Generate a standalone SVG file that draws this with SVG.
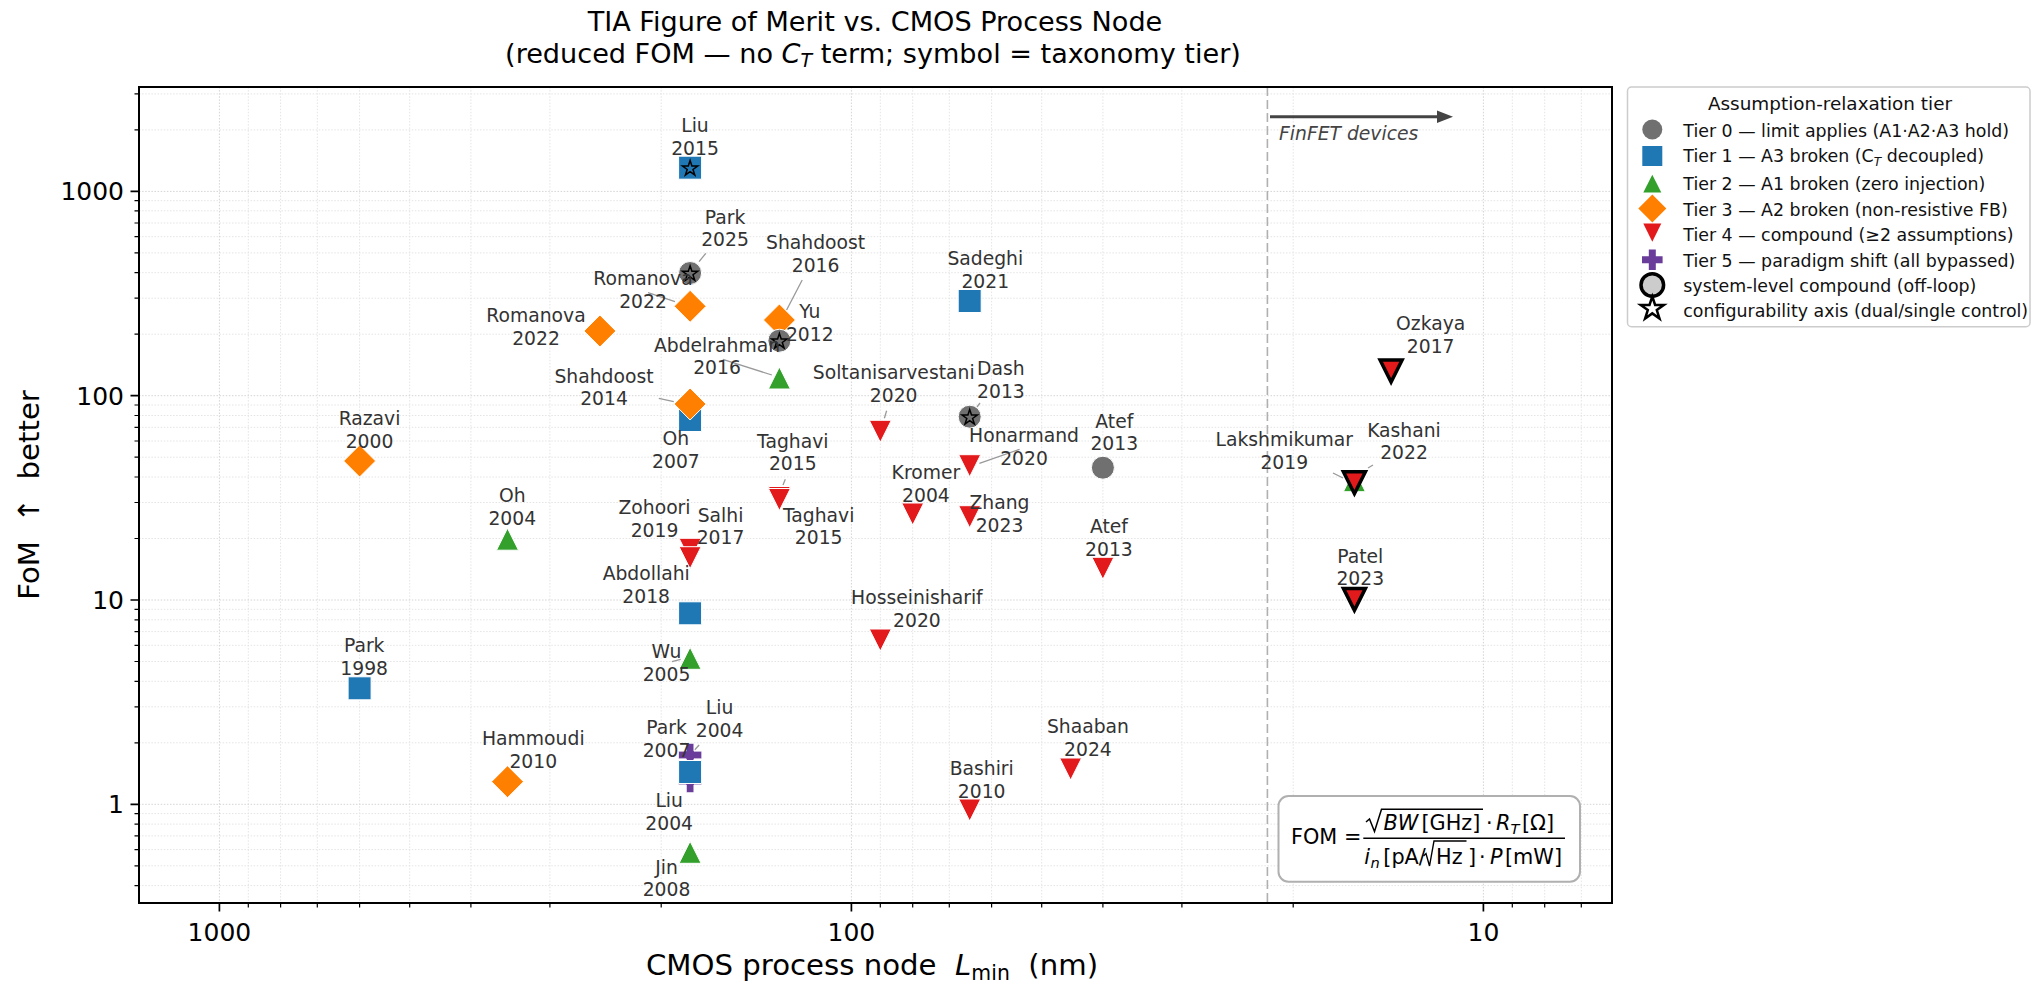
<svg xmlns="http://www.w3.org/2000/svg" xmlns:xlink="http://www.w3.org/1999/xlink" width="2031" height="985" viewBox="0 0 2031 985">
<style>
text { font-family: "DejaVu Sans", "Liberation Sans", sans-serif; }
.ann { font-size: 18.75px; fill: #333; text-anchor: middle; }
.tk { font-size: 25px; fill: #000; }
.lg { font-size: 17.4px; fill: #111; }
.t0 { fill: #707070; stroke: #fff; stroke-width: 1; }
.t1 { fill: #1f78b4; stroke: #fff; stroke-width: 1; }
.t2 { fill: #33a02c; stroke: #fff; stroke-width: 1; }
.t3 { fill: #ff7f00; stroke: #fff; stroke-width: 1; }
.t4 { fill: #e31a1c; stroke: #fff; stroke-width: 1; }
.t5 { fill: #6a3d9a; stroke: #fff; stroke-width: 1; }
.sys { stroke: #000; stroke-width: 3.5; stroke-linejoin: miter; }
.star { fill: none; stroke: #000; stroke-width: 1.5; }
.leader { stroke: #999; stroke-width: 1.3; fill: none; }
.it { font-style: italic; }
</style>
<defs>
<path id="mSq" d="M-11.5,-11.5h23v23h-23z"/>
<circle id="mCi" r="11.5"/>
<path id="mTu" d="M0,-11L11,11H-11Z"/>
<path id="mTd" d="M0,11L11,-11H-11Z"/>
<path id="mDi" d="M0,-16L16,0L0,16L-16,0Z"/>
<path id="mPl" d="M-3.9,-11.8h7.8v7.9h7.9v7.8h-7.9v7.9h-7.8v-7.9h-7.9v-7.8h7.9z"/>
<path id="mSt" d="M0,-8L1.8,-2.47L7.61,-2.47L2.91,0.94L4.7,6.47L0,3.06L-4.7,6.47L-2.91,0.94L-7.61,-2.47L-1.8,-2.47Z"/>
</defs>
<rect x="0" y="0" width="2031" height="985" fill="#fff"/>

<!-- title -->
<g id="title">
<text x="875" y="31" font-size="27.1" text-anchor="middle" fill="#000">TIA Figure of Merit vs. CMOS Process Node</text>
<text x="873" y="63.3" font-size="27.1" text-anchor="middle" fill="#000">(reduced FOM — no <tspan class="it">C</tspan><tspan class="it" font-size="19" dy="4">T</tspan><tspan dy="-4"> term; symbol = taxonomy tier)</tspan></text>
</g>

<!-- grid -->
<g id="grid" fill="none">
<path stroke="#e4e4e4" stroke-width="1" stroke-dasharray="1.5,1.6" d="M248.3,87V903M280.6,87V903M317.3,87V903M359.6,87V903M409.7,87V903M470.9,87V903M549.9,87V903M661.2,87V903M880.3,87V903M912.7,87V903M949.3,87V903M991.6,87V903M1041.7,87V903M1102.9,87V903M1181.9,87V903M1293.2,87V903M1512.3,87V903M1544.7,87V903M1581.3,87V903
M139,885.6H1612M139,865.8H1612M139,849.6H1612M139,835.9H1612M139,824.1H1612M139,813.6H1612M139,742.8H1612M139,706.8H1612M139,681.3H1612M139,661.5H1612M139,645.3H1612M139,631.6H1612M139,619.8H1612M139,609.3H1612M139,538.5H1612M139,502.5H1612M139,477H1612M139,457.2H1612M139,441H1612M139,427.3H1612M139,415.5H1612M139,405H1612M139,334.2H1612M139,298.2H1612M139,272.7H1612M139,252.9H1612M139,236.7H1612M139,223H1612M139,210.8H1612M139,200.7H1612M139,129.9H1612M139,93.9H1612"/>
<path stroke="#d4d4d4" stroke-width="1" stroke-dasharray="1.5,1.6" d="M219.4,87V903M851.4,87V903M1483.4,87V903M139,804.3H1612M139,600H1612M139,395.7H1612M139,191.4H1612"/>
</g>

<!-- FinFET boundary -->
<g id="finfet">
<line x1="1267.4" y1="87" x2="1267.4" y2="903" stroke="#b0b0b0" stroke-width="1.6" stroke-dasharray="9,4"/>
<line x1="1270" y1="116.7" x2="1440" y2="116.7" stroke="#444" stroke-width="3"/>
<path d="M1453,116.7L1437,110.5L1437,122.9Z" fill="#444"/>
<text x="1279" y="139.5" font-size="18.75" font-style="italic" fill="#444">FinFET devices</text>
</g>

<!-- connectors (annotation leaders) -->
<g id="leaders" class="leader">
<line x1="705.8" y1="253.3" x2="699.1" y2="261.7"/>
<line x1="648" y1="292.7" x2="675" y2="301.7"/>
<line x1="802.2" y1="280" x2="786.6" y2="310"/>
<line x1="722.8" y1="359.3" x2="771.9" y2="375"/>
<line x1="658.8" y1="398.3" x2="673.8" y2="401.7"/>
<line x1="886.6" y1="410.7" x2="884.4" y2="418.3"/>
<line x1="977" y1="407" x2="980" y2="403"/>
<line x1="979.4" y1="463.3" x2="1019.6" y2="449.3"/>
<line x1="785.3" y1="479.3" x2="783" y2="485"/>
<line x1="671.9" y1="661.7" x2="680.7" y2="659.3"/>
<line x1="699.1" y1="745" x2="694.6" y2="750"/>
<line x1="1333" y1="473" x2="1343" y2="478"/>
<line x1="1368" y1="468" x2="1373" y2="465"/>
</g>

<!-- markers -->
<g id="n-liu2004a"><use href="#mPl" x="690.1" y="755" class="t5"/></g>
<g id="n-liu2004b"><use href="#mPl" x="690.1" y="781" class="t5"/></g>
<g id="n-liu2015"><use href="#mSq" x="690.1" y="167.7" class="t1"/><use href="#mSt" x="690.1" y="168.5" class="star"/></g>
<g id="n-sadeghi2021"><use href="#mSq" x="969.7" y="301" class="t1"/></g>
<g id="n-oh2007"><use href="#mSq" x="690.1" y="420" class="t1"/></g>
<g id="n-abdollahi2018"><use href="#mSq" x="690.1" y="613.3" class="t1"/></g>
<g id="n-park1998"><use href="#mSq" x="359.6" y="688.3" class="t1"/></g>
<g id="n-park2007"><use href="#mSq" x="690.1" y="772" class="t1"/></g>
<g id="n-romanova2022a"><use href="#mDi" x="690.1" y="306.3" class="t3"/></g>
<g id="n-romanova2022b"><use href="#mDi" x="599.9" y="331" class="t3"/></g>
<g id="n-shahdoost2016"><use href="#mDi" x="779.4" y="320" class="t3"/></g>
<g id="n-shahdoost2014"><use href="#mDi" x="690.1" y="404" class="t3"/></g>
<g id="n-razavi2000"><use href="#mDi" x="359.6" y="461" class="t3"/></g>
<g id="n-hammoudi2010"><use href="#mDi" x="507.5" y="781.7" class="t3"/></g>
<g id="n-park2025"><use href="#mCi" x="690.1" y="273" class="t0"/><use href="#mSt" x="690.1" y="273.8" class="star"/></g>
<g id="n-yu2012"><use href="#mCi" x="779.4" y="340.7" class="t0"/><use href="#mSt" x="779.4" y="341.5" class="star"/></g>
<g id="n-dash2013"><use href="#mCi" x="969.7" y="416.7" class="t0"/><use href="#mSt" x="969.7" y="417.5" class="star"/></g>
<g id="n-atef2013a"><use href="#mCi" x="1102.9" y="467.7" class="t0"/></g>
<g id="n-abdelrahman2016"><use href="#mTu" x="779.4" y="378" class="t2"/></g>
<g id="n-oh2004"><use href="#mTu" x="507.5" y="539.2" class="t2"/></g>
<g id="n-wu2005"><use href="#mTu" x="690.1" y="658.3" class="t2"/></g>
<g id="n-jin2008"><use href="#mTu" x="690.1" y="852.3" class="t2"/></g>
<g id="n-lakshmikumar2019"><use href="#mTu" x="1354.4" y="480.7" class="t2"/></g>
<g id="n-soltanisarvestani2020"><use href="#mTd" x="880.3" y="431.3" class="t4"/></g>
<g id="n-honarmand2020"><use href="#mTd" x="969.7" y="465.7" class="t4"/></g>
<g id="n-taghavi2015a"><use href="#mTd" x="779.4" y="497.5" class="t4"/></g>
<g id="n-taghavi2015b"><use href="#mTd" x="779.4" y="499.5" class="t4"/></g>
<g id="n-kromer2004"><use href="#mTd" x="912.7" y="514" class="t4"/></g>
<g id="n-zhang2023"><use href="#mTd" x="969.7" y="516.7" class="t4"/></g>
<g id="n-zohoori2019"><use href="#mTd" x="690.1" y="549.3" class="t4"/></g>
<g id="n-salhi2017"><use href="#mTd" x="690.1" y="557.7" class="t4"/></g>
<g id="n-atef2013b"><use href="#mTd" x="1102.9" y="568.3" class="t4"/></g>
<g id="n-hosseinisharif2020"><use href="#mTd" x="880.3" y="640" class="t4"/></g>
<g id="n-shaaban2024"><use href="#mTd" x="1070.6" y="769" class="t4"/></g>
<g id="n-bashiri2010"><use href="#mTd" x="969.7" y="810" class="t4"/></g>
<g id="n-ozkaya2017"><use href="#mTd" x="1391.1" y="371" class="t4 sys"/></g>
<g id="n-kashani2022"><use href="#mTd" x="1354.4" y="482.7" class="t4 sys"/></g>
<g id="n-patel2023"><use href="#mTd" x="1354.4" y="599.4" class="t4 sys"/></g>

<!-- labels -->
<g id="labels" class="ann">
<text x="695" y="132">Liu</text><text x="695" y="154.5">2015</text>
<text x="725" y="223.6">Park</text><text x="725" y="246.1">2025</text>
<text x="643" y="285">Romanova</text><text x="643" y="307.5">2022</text>
<text x="536" y="322">Romanova</text><text x="536" y="344.5">2022</text>
<text x="815.6" y="249.3">Shahdoost</text><text x="815.6" y="271.8">2016</text>
<text x="809.8" y="318.3">Yu</text><text x="809.8" y="340.8">2012</text>
<text x="985.3" y="265.3">Sadeghi</text><text x="985.3" y="287.8">2021</text>
<text x="717" y="351.6">Abdelrahman</text><text x="717" y="374.1">2016</text>
<text x="604" y="382.6">Shahdoost</text><text x="604" y="405.1">2014</text>
<text x="675.9" y="445">Oh</text><text x="675.9" y="467.5">2007</text>
<text x="369.5" y="425">Razavi</text><text x="369.5" y="447.5">2000</text>
<text x="893.7" y="379.3">Soltanisarvestani</text><text x="893.7" y="401.8">2020</text>
<text x="1000.9" y="375">Dash</text><text x="1000.9" y="397.5">2013</text>
<text x="1024" y="442">Honarmand</text><text x="1024" y="464.5">2020</text>
<text x="1114.3" y="427.6">Atef</text><text x="1114.3" y="450.1">2013</text>
<text x="792.8" y="447.6">Taghavi</text><text x="792.8" y="470.1">2015</text>
<text x="818.7" y="521.6">Taghavi</text><text x="818.7" y="544.1">2015</text>
<text x="925.9" y="479.3">Kromer</text><text x="925.9" y="501.8">2004</text>
<text x="999.5" y="509.3">Zhang</text><text x="999.5" y="531.8">2023</text>
<text x="512.3" y="502">Oh</text><text x="512.3" y="524.5">2004</text>
<text x="654.5" y="514.3">Zohoori</text><text x="654.5" y="536.8">2019</text>
<text x="720.5" y="521.6">Salhi</text><text x="720.5" y="544.1">2017</text>
<text x="1108.9" y="533.3">Atef</text><text x="1108.9" y="555.8">2013</text>
<text x="646.2" y="580.3">Abdollahi</text><text x="646.2" y="602.8">2018</text>
<text x="916.9" y="604.3">Hosseinisharif</text><text x="916.9" y="626.8">2020</text>
<text x="666.5" y="658.3">Wu</text><text x="666.5" y="680.8">2005</text>
<text x="364.2" y="652">Park</text><text x="364.2" y="674.5">1998</text>
<text x="719.6" y="714.3">Liu</text><text x="719.6" y="736.8">2004</text>
<text x="666.5" y="734.3">Park</text><text x="666.5" y="756.8">2007</text>
<text x="533.3" y="745.3">Hammoudi</text><text x="533.3" y="767.8">2010</text>
<text x="1087.9" y="733.3">Shaaban</text><text x="1087.9" y="755.8">2024</text>
<text x="981.7" y="775">Bashiri</text><text x="981.7" y="797.5">2010</text>
<text x="669.2" y="807">Liu</text><text x="669.2" y="829.5">2004</text>
<text x="666.5" y="873.6">Jin</text><text x="666.5" y="896.1">2008</text>
<text x="1430.7" y="330">Ozkaya</text><text x="1430.7" y="352.5">2017</text>
<text x="1284.3" y="446">Lakshmikumar</text><text x="1284.3" y="468.5">2019</text>
<text x="1404" y="436.6">Kashani</text><text x="1404" y="459.1">2022</text>
<text x="1360.3" y="562.6">Patel</text><text x="1360.3" y="585.1">2023</text>
</g>

<!-- FOM formula box -->
<g id="fom-box">
<rect x="1278.5" y="796" width="301.5" height="85.7" rx="10" fill="#fff" stroke="#b0b0b0" stroke-width="2"/>
<text x="1291" y="843.5" font-size="20.8" fill="#000">FOM =</text>
<path d="M1366,822L1369.5,819L1374.5,831.5L1381.5,809.3H1483" fill="none" stroke="#000" stroke-width="1.5"/>
<text y="830" font-size="20.8" fill="#000"><tspan x="1383.5" class="it">BW</tspan><tspan x="1421.5">[GHz]</tspan><tspan x="1486">·</tspan><tspan x="1496" class="it">R</tspan><tspan x="1510.5" dy="4" font-size="14.6" class="it">T</tspan><tspan x="1522" dy="-4">[Ω]</tspan></text>
<line x1="1363.3" y1="838.3" x2="1565" y2="838.3" stroke="#000" stroke-width="1.5"/>
<text y="864.3" font-size="20.8" fill="#000"><tspan x="1364.3" class="it">i</tspan><tspan x="1370.5" dy="4" font-size="14.6" class="it">n</tspan><tspan x="1383.3" dy="-4">[pA/</tspan><tspan x="1436">Hz</tspan><tspan x="1468">]</tspan><tspan x="1479">·</tspan><tspan x="1490" class="it">P</tspan><tspan x="1505">[mW]</tspan></text>
<path d="M1423.5,856L1426,853.5L1429.5,866L1434,841H1466.5" fill="none" stroke="#000" stroke-width="1.4"/>
</g>

<!-- axes frame and ticks -->
<g id="axes">
<rect x="139" y="87" width="1473" height="816" fill="none" stroke="#000" stroke-width="2"/>
<path stroke="#000" stroke-width="1.7" d="M219.4,903v8.5M851.4,903v8.5M1483.4,903v8.5M139,804.3h-8.5M139,600h-8.5M139,395.7h-8.5M139,191.4h-8.5"/>
<path stroke="#000" stroke-width="1.2" d="M248.3,903v4.5M280.6,903v4.5M317.3,903v4.5M359.6,903v4.5M409.7,903v4.5M470.9,903v4.5M549.9,903v4.5M661.2,903v4.5M880.3,903v4.5M912.7,903v4.5M949.3,903v4.5M991.6,903v4.5M1041.7,903v4.5M1102.9,903v4.5M1181.9,903v4.5M1293.2,903v4.5M1512.3,903v4.5M1544.7,903v4.5M1581.3,903v4.5
M139,885.6h-4.5M139,865.8h-4.5M139,849.6h-4.5M139,835.9h-4.5M139,824.1h-4.5M139,813.6h-4.5M139,742.8h-4.5M139,706.8h-4.5M139,681.3h-4.5M139,661.5h-4.5M139,645.3h-4.5M139,631.6h-4.5M139,619.8h-4.5M139,609.3h-4.5M139,538.5h-4.5M139,502.5h-4.5M139,477h-4.5M139,457.2h-4.5M139,441h-4.5M139,427.3h-4.5M139,415.5h-4.5M139,405h-4.5M139,334.2h-4.5M139,298.2h-4.5M139,272.7h-4.5M139,252.9h-4.5M139,236.7h-4.5M139,223h-4.5M139,210.8h-4.5M139,200.7h-4.5M139,129.9h-4.5M139,93.9h-4.5"/>
<g class="tk" text-anchor="middle">
<text x="219.4" y="940.7">1000</text>
<text x="851.4" y="940.7">100</text>
<text x="1483.4" y="940.7">10</text>
</g>
<g class="tk" text-anchor="end">
<text x="124" y="813.3">1</text>
<text x="124" y="609">10</text>
<text x="124" y="404.7">100</text>
<text x="124" y="200.4">1000</text>
</g>
<text x="872" y="975" font-size="29.2" text-anchor="middle" fill="#000" xml:space="preserve">CMOS process node  <tspan class="it">L</tspan><tspan font-size="20.4" dy="5">min</tspan><tspan dy="-5">  (nm)</tspan></text>
<text x="39" y="495" font-size="29.2" text-anchor="middle" fill="#000" transform="rotate(-90 39 495)" xml:space="preserve">FoM  ↑  better</text>
</g>

<!-- legend -->
<g id="legend">
<rect x="1627.5" y="87" width="402.5" height="239.7" rx="4" fill="#fff" fill-opacity="0.9" stroke="#cccccc" stroke-width="1.5"/>
<text x="1830" y="109.5" font-size="18.4" text-anchor="middle" fill="#111">Assumption-relaxation tier</text>
<circle cx="1652.3" cy="129.5" r="10" fill="#707070"/>
<rect x="1642.3" y="146" width="20" height="20" fill="#1f78b4"/>
<path d="M1652.3,174.7L1661.3,192.5H1643.3Z" fill="#33a02c"/>
<path d="M1652.3,194.5L1666.3,208.5L1652.3,222.5L1638.3,208.5Z" fill="#ff7f00"/>
<path d="M1652.3,241.7L1661.3,223.5H1643.3Z" fill="#e31a1c"/>
<path d="M1648.8,249.5h7v6.8h6.8v7h-6.8v6.8h-7v-6.8h-6.8v-7h6.8z" fill="#6a3d9a"/>
<circle cx="1652.3" cy="285" r="11.3" fill="#cccccc" stroke="#000" stroke-width="3.5"/>
<path d="M1652.3,296.5L1655.1,305L1663.9,305L1656.8,310.1L1659.5,318.6L1652.3,313.4L1645.1,318.6L1647.8,310.1L1640.7,305L1649.5,305Z" fill="#fff" stroke="#000" stroke-width="2.5" stroke-linejoin="miter"/>
<g class="lg">
<text x="1683.3" y="136.6">Tier 0 — limit applies (A1·A2·A3 hold)</text>
<text x="1683.3" y="162.3">Tier 1 — A3 broken (C<tspan class="it" font-size="12.2" dy="3.5">T</tspan><tspan dy="-3.5"> decoupled)</tspan></text>
<text x="1683.3" y="190">Tier 2 — A1 broken (zero injection)</text>
<text x="1683.3" y="215.6">Tier 3 — A2 broken (non-resistive FB)</text>
<text x="1683.3" y="240.6">Tier 4 — compound (≥2 assumptions)</text>
<text x="1683.3" y="266.6">Tier 5 — paradigm shift (all bypassed)</text>
<text x="1683.3" y="291.6">system-level compound (off-loop)</text>
<text x="1683.3" y="317.3">configurability axis (dual/single control)</text>
</g>
</g>
</svg>
